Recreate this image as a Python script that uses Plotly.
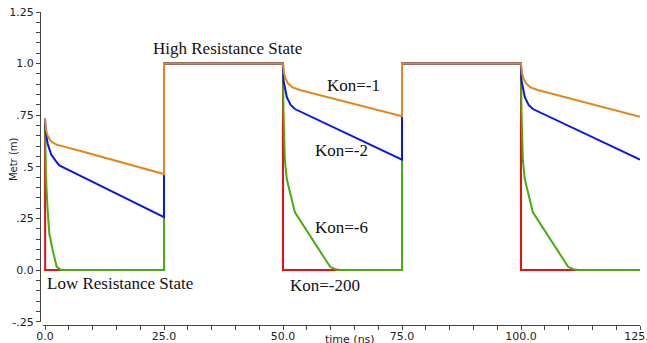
import plotly.graph_objects as go

# Memristor state variable (Metr) versus time for four Kon values
time_kon200 = [0, 0.03, 25, 25, 50, 50, 75, 75, 100, 100, 125]
metr_kon200 = [0.733, 0.0, 0.0, 1.0, 1.0, 0.0, 0.0, 1.0, 1.0, 0.0, 0.0]

time_kon6 = [0, 0.2, 0.55, 0.9, 1.6, 2.45, 3.4, 25, 25,
             50, 50.1, 50.4, 50.8, 51.5, 52.5, 59.9, 61.0, 62.0, 75, 75,
             100, 100.1, 100.4, 100.8, 101.5, 102.5, 109.9, 111.0, 112.0, 125]
metr_kon6 = [0.733, 0.45, 0.29, 0.177, 0.097, 0.016, 0.0, 0.0, 1.0,
             1.0, 0.77, 0.53, 0.44, 0.37, 0.28, 0.016, 0.004, 0.0, 0.0, 1.0,
             1.0, 0.77, 0.53, 0.44, 0.37, 0.28, 0.016, 0.004, 0.0, 0.0]

time_kon2 = [0, 0.1, 0.55, 1.3, 2.2, 3.0, 6.5, 25, 25,
             50, 50.1, 50.8, 51.6, 52.5, 75, 75,
             100, 100.1, 100.8, 101.6, 102.5, 125]
metr_kon2 = [0.733, 0.676, 0.612, 0.56, 0.53, 0.507, 0.467, 0.257, 1.0,
             1.0, 0.918, 0.837, 0.80, 0.78, 0.535, 1.0,
             1.0, 0.918, 0.837, 0.80, 0.78, 0.535]

time_kon1 = [0, 0.2, 0.5, 1.0, 1.5, 2.5, 4.0, 6.5, 25, 25,
             50, 50.2, 50.5, 51.0, 52.0, 53.5, 75, 75,
             100, 100.2, 100.5, 101.0, 102.0, 103.5, 125]
metr_kon1 = [0.733, 0.68, 0.655, 0.632, 0.62, 0.607, 0.598, 0.583, 0.465, 1.0,
             1.0, 0.955, 0.93, 0.905, 0.885, 0.872, 0.745, 1.0,
             1.0, 0.955, 0.93, 0.905, 0.885, 0.872, 0.743]

series = [
    ("Kon=-200", time_kon200, metr_kon200, "#F20C0C"),
    ("Kon=-6", time_kon6, metr_kon6, "#45AE0E"),
    ("Kon=-2", time_kon2, metr_kon2, "#0A14F0"),
    ("Kon=-1", time_kon1, metr_kon1, "#E3861C"),
]

x_major = [0, 25, 50, 75, 100, 125]
x_major_text = ["0.0", "25.0", "50.0", "75.0", "100.0", "125.0"]
y_major = [-0.25, 0.0, 0.25, 0.5, 0.75, 1.0, 1.25]
y_major_text = ["-.25", "0.0", ".25", ".5", ".75", "1.0", "1.25"]

# Text labels placed in data coordinates
label_text = ["High Resistance State", "Low Resistance State",
              "Kon=-1", "Kon=-2", "Kon=-6", "Kon=-200"]
label_t = [38.3, 15.8, 64.8, 62.2, 62.2, 58.8]
label_m = [1.074, -0.063, 0.895, 0.58, 0.208, -0.075]

fig = go.Figure()
for name, t, m, color in series:
    fig.add_trace(go.Scatter(x=t, y=m, mode="lines", name=name,
                             line=dict(color=color, width=2),
                             showlegend=False, hoverinfo="skip"))

axis_color = "#444444"
tick_font = dict(family="DejaVu Sans", size=11, color="#222222")

fig.update_layout(
    width=647, height=343,
    margin=dict(l=40, r=7, t=12, b=18, autoexpand=False),
    paper_bgcolor="white", plot_bgcolor="white",
    xaxis=dict(
        range=[-0.4, 125], domain=[0.0052, 1],
        anchor="free", position=0, automargin=False,
        showline=True, linecolor=axis_color, linewidth=1.2,
        showgrid=False, zeroline=False,
        ticks="outside", ticklen=4, tickcolor=axis_color, tickwidth=1,
        tickmode="array", tickvals=x_major, ticktext=x_major_text,
        tickfont=tick_font, ticklabeloverflow="allow", ticklabelstandoff=-3,
        minor=dict(tickmode="linear", tick0=0, dtick=5, ticks="outside",
                   ticklen=4, tickcolor=axis_color, tickwidth=1, showgrid=False),
    ),
    yaxis=dict(
        range=[-0.25, 1.25], domain=[0.0105, 1],
        anchor="free", position=0, automargin=False,
        showline=True, linecolor=axis_color, linewidth=1.2,
        showgrid=False, zeroline=False,
        ticks="outside", ticklen=4, tickcolor=axis_color, tickwidth=1,
        tickmode="array", tickvals=y_major, ticktext=y_major_text,
        tickfont=tick_font, ticklabeloverflow="allow",
        minor=dict(tickmode="linear", tick0=-0.25, dtick=0.05, ticks="outside",
                   ticklen=4, tickcolor=axis_color, tickwidth=1, showgrid=False),
    ),
)

for txt, t, m in zip(label_text, label_t, label_m):
    fig.add_annotation(x=t, y=m, xref="x", yref="y", text=txt, showarrow=False,
                       xanchor="center", yanchor="middle",
                       font=dict(family="Liberation Serif", size=17, color="#111111"))

# Axis titles
fig.add_annotation(x=0.517, y=-0.046, xref="paper", yref="paper", text="time (ns)",
                   showarrow=False, xanchor="center", yanchor="middle",
                   font=dict(family="DejaVu Sans", size=11, color="#222222"))
fig.add_annotation(x=-0.045, y=0.53, xref="paper", yref="paper", text="Metr (m)",
                   showarrow=False, textangle=-90, xanchor="center", yanchor="middle",
                   font=dict(family="DejaVu Sans", size=10, color="#222222"))

fig.write_html("out.html")
